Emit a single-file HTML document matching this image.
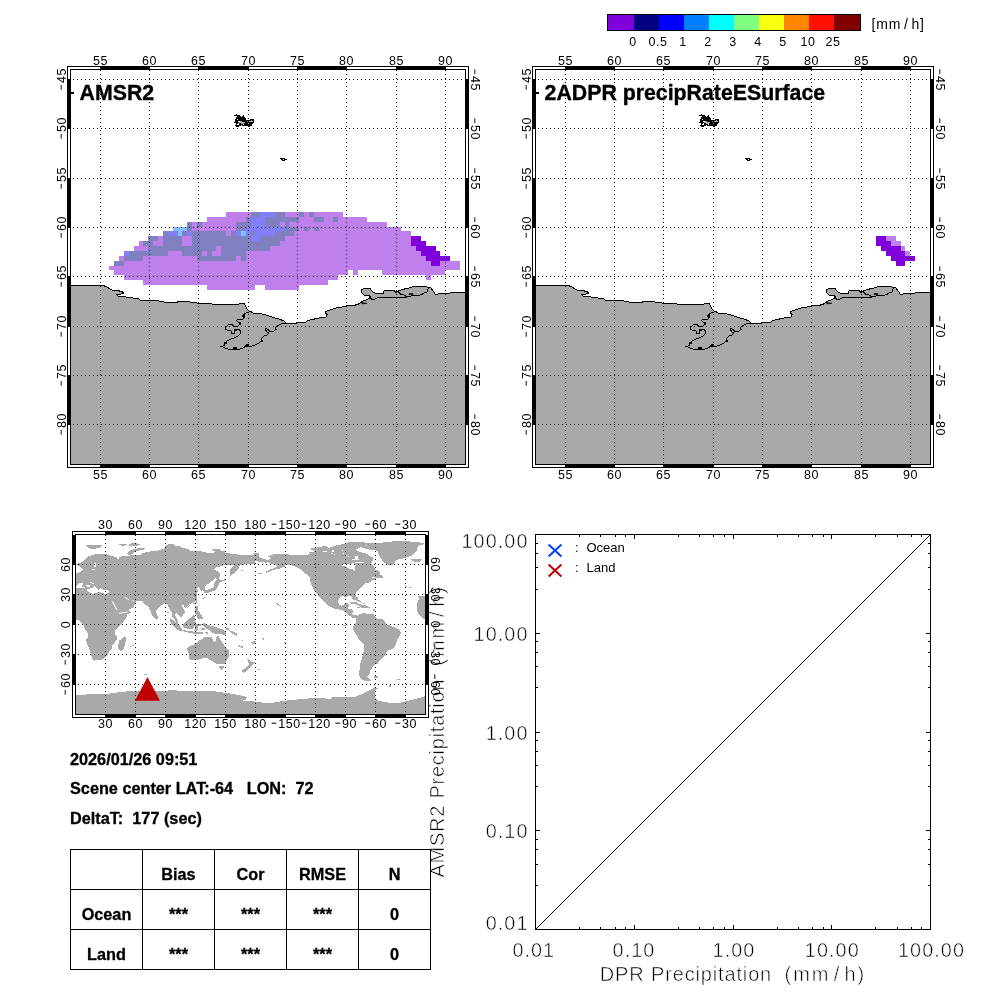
<!DOCTYPE html>
<html lang="en"><head><meta charset="utf-8"><title>AMSR2</title>
<style>
html,body{margin:0;padding:0;background:#fff;}
body{width:1000px;height:1000px;overflow:hidden;}
svg{display:block;}
text{font-family:'Liberation Sans', sans-serif;fill:#000;}
.ax{font-size:12.5px;letter-spacing:0.6px;}
.mn{font-size:22px;stroke:#fff;stroke-width:0.6px;}
.ttl{font-size:21.3px;font-weight:bold;stroke:#000;stroke-width:0.35px;}
.b16{font-size:16.25px;font-weight:bold;stroke:#000;stroke-width:0.3px;}
.big{font-size:19.8px;letter-spacing:1.08px;stroke:#fff;stroke-width:0.5px;}
.tl{font-size:20px;stroke:#fff;stroke-width:0.55px;}
.leg{font-size:13px;}
</style></head><body>
<svg width="1000" height="1000" viewBox="0 0 1000 1000" shape-rendering="crispEdges">
<defs>
<clipPath id="clip0"><rect x="71" y="70" width="394" height="394"/></clipPath>
<clipPath id="clip465"><rect x="536" y="70" width="394" height="394"/></clipPath>
<clipPath id="clipw"><rect x="76" y="535" width="349" height="179"/></clipPath>
</defs>
<rect x="0" y="0" width="1000" height="1000" fill="#fff"/>
<rect x="607" y="14" width="254" height="17" fill="#000"/>
<rect x="608" y="15" width="26" height="15" fill="#8000dc"/>
<rect x="634" y="15" width="25" height="15" fill="#000080"/>
<rect x="659" y="15" width="25" height="15" fill="#0000ff"/>
<rect x="684" y="15" width="25" height="15" fill="#0080ff"/>
<rect x="709" y="15" width="25" height="15" fill="#00ffff"/>
<rect x="734" y="15" width="25" height="15" fill="#80ff80"/>
<rect x="759" y="15" width="25" height="15" fill="#f8ff10"/>
<rect x="784" y="15" width="25" height="15" fill="#ff8800"/>
<rect x="809" y="15" width="25" height="15" fill="#ff1000"/>
<rect x="834" y="15" width="26" height="15" fill="#800000"/>
<text x="633" y="46" class="ax" text-anchor="middle">0</text>
<text x="658" y="46" class="ax" text-anchor="middle">0.5</text>
<text x="683" y="46" class="ax" text-anchor="middle">1</text>
<text x="708" y="46" class="ax" text-anchor="middle">2</text>
<text x="733" y="46" class="ax" text-anchor="middle">3</text>
<text x="758" y="46" class="ax" text-anchor="middle">4</text>
<text x="783" y="46" class="ax" text-anchor="middle">5</text>
<text x="808" y="46" class="ax" text-anchor="middle">10</text>
<text x="833" y="46" class="ax" text-anchor="middle">25</text>
<text x="871.5" y="29" class="leg" style="font-size:14px;letter-spacing:0.9px">[mm<tspan dx="2.6">/</tspan><tspan dx="2.6">h]</tspan></text>
<rect x="67" y="66" width="402" height="402" fill="#000"/>
<rect x="68" y="67" width="400" height="400" fill="#fff"/>
<rect x="70" y="69" width="396" height="396" fill="#000"/>
<rect x="71" y="70" width="394" height="394" fill="#fff"/>
<rect x="100" y="66" width="50" height="4" fill="#000"/>
<rect x="100" y="464" width="50" height="4" fill="#000"/>
<rect x="198" y="66" width="51" height="4" fill="#000"/>
<rect x="198" y="464" width="51" height="4" fill="#000"/>
<rect x="297" y="66" width="50" height="4" fill="#000"/>
<rect x="297" y="464" width="50" height="4" fill="#000"/>
<rect x="396" y="66" width="50" height="4" fill="#000"/>
<rect x="396" y="464" width="50" height="4" fill="#000"/>
<rect x="67" y="79" width="4" height="50" fill="#000"/>
<rect x="465" y="79" width="4" height="50" fill="#000"/>
<rect x="67" y="178" width="4" height="50" fill="#000"/>
<rect x="465" y="178" width="4" height="50" fill="#000"/>
<rect x="67" y="276" width="4" height="51" fill="#000"/>
<rect x="465" y="276" width="4" height="51" fill="#000"/>
<rect x="67" y="375" width="4" height="50" fill="#000"/>
<rect x="465" y="375" width="4" height="50" fill="#000"/>
<rect x="226" y="212" width="25" height="5" fill="#c080ec"/>
<rect x="251" y="212" width="9" height="5" fill="#8080c0"/>
<rect x="260" y="212" width="15" height="5" fill="#8080ff"/>
<rect x="275" y="212" width="10" height="5" fill="#8080c0"/>
<rect x="285" y="212" width="14" height="5" fill="#c080ec"/>
<rect x="299" y="212" width="5" height="5" fill="#8080c0"/>
<rect x="304" y="212" width="5" height="5" fill="#c080ec"/>
<rect x="309" y="212" width="5" height="5" fill="#8080c0"/>
<rect x="314" y="212" width="29" height="5" fill="#c080ec"/>
<rect x="207" y="217" width="39" height="5" fill="#c080ec"/>
<rect x="246" y="217" width="5" height="5" fill="#8080c0"/>
<rect x="251" y="217" width="14" height="5" fill="#8080ff"/>
<rect x="265" y="217" width="34" height="5" fill="#8080c0"/>
<rect x="299" y="217" width="15" height="5" fill="#c080ec"/>
<rect x="314" y="217" width="10" height="5" fill="#8080c0"/>
<rect x="324" y="217" width="9" height="5" fill="#c080ec"/>
<rect x="333" y="217" width="5" height="5" fill="#8080c0"/>
<rect x="338" y="217" width="29" height="5" fill="#c080ec"/>
<rect x="187" y="222" width="5" height="5" fill="#8080c0"/>
<rect x="192" y="222" width="5" height="5" fill="#c080ec"/>
<rect x="197" y="222" width="5" height="5" fill="#8080c0"/>
<rect x="202" y="222" width="34" height="5" fill="#c080ec"/>
<rect x="236" y="222" width="15" height="5" fill="#8080c0"/>
<rect x="251" y="222" width="14" height="5" fill="#8080ff"/>
<rect x="265" y="222" width="15" height="5" fill="#8080c0"/>
<rect x="280" y="222" width="5" height="5" fill="#c080ec"/>
<rect x="285" y="222" width="4" height="5" fill="#8080c0"/>
<rect x="289" y="222" width="98" height="5" fill="#c080ec"/>
<rect x="173" y="227" width="14" height="4" fill="#80c0ff"/>
<rect x="187" y="227" width="5" height="4" fill="#8080c0"/>
<rect x="192" y="227" width="44" height="4" fill="#c080ec"/>
<rect x="236" y="227" width="10" height="4" fill="#8080c0"/>
<rect x="246" y="227" width="39" height="4" fill="#8080ff"/>
<rect x="285" y="227" width="14" height="4" fill="#8080c0"/>
<rect x="299" y="227" width="5" height="4" fill="#c080ec"/>
<rect x="304" y="227" width="5" height="4" fill="#8080c0"/>
<rect x="309" y="227" width="5" height="4" fill="#c080ec"/>
<rect x="314" y="227" width="5" height="4" fill="#8080c0"/>
<rect x="319" y="227" width="82" height="4" fill="#c080ec"/>
<rect x="163" y="231" width="5" height="5" fill="#8080c0"/>
<rect x="168" y="231" width="10" height="5" fill="#8080ff"/>
<rect x="178" y="231" width="4" height="5" fill="#80c0ff"/>
<rect x="182" y="231" width="5" height="5" fill="#8080c0"/>
<rect x="187" y="231" width="5" height="5" fill="#8080ff"/>
<rect x="192" y="231" width="34" height="5" fill="#8080c0"/>
<rect x="226" y="231" width="5" height="5" fill="#c080ec"/>
<rect x="231" y="231" width="5" height="5" fill="#8080c0"/>
<rect x="236" y="231" width="5" height="5" fill="#8080ff"/>
<rect x="241" y="231" width="5" height="5" fill="#80c0ff"/>
<rect x="246" y="231" width="5" height="5" fill="#8080ff"/>
<rect x="251" y="231" width="4" height="5" fill="#8080c0"/>
<rect x="255" y="231" width="20" height="5" fill="#8080ff"/>
<rect x="275" y="231" width="19" height="5" fill="#8080c0"/>
<rect x="294" y="231" width="117" height="5" fill="#c080ec"/>
<rect x="148" y="236" width="10" height="5" fill="#8080c0"/>
<rect x="158" y="236" width="5" height="5" fill="#c080ec"/>
<rect x="163" y="236" width="19" height="5" fill="#8080c0"/>
<rect x="182" y="236" width="10" height="5" fill="#c080ec"/>
<rect x="192" y="236" width="59" height="5" fill="#8080c0"/>
<rect x="251" y="236" width="9" height="5" fill="#8080ff"/>
<rect x="260" y="236" width="25" height="5" fill="#8080c0"/>
<rect x="285" y="236" width="126" height="5" fill="#c080ec"/>
<rect x="411" y="236" width="10" height="5" fill="#8000dc"/>
<rect x="139" y="241" width="4" height="5" fill="#c080ec"/>
<rect x="143" y="241" width="10" height="5" fill="#8080c0"/>
<rect x="153" y="241" width="10" height="5" fill="#c080ec"/>
<rect x="163" y="241" width="19" height="5" fill="#8080c0"/>
<rect x="182" y="241" width="10" height="5" fill="#c080ec"/>
<rect x="192" y="241" width="88" height="5" fill="#8080c0"/>
<rect x="280" y="241" width="131" height="5" fill="#c080ec"/>
<rect x="411" y="241" width="15" height="5" fill="#8000dc"/>
<rect x="134" y="246" width="14" height="5" fill="#c080ec"/>
<rect x="148" y="246" width="68" height="5" fill="#8080c0"/>
<rect x="216" y="246" width="5" height="5" fill="#c080ec"/>
<rect x="221" y="246" width="49" height="5" fill="#8080c0"/>
<rect x="270" y="246" width="146" height="5" fill="#c080ec"/>
<rect x="416" y="246" width="20" height="5" fill="#8000dc"/>
<rect x="124" y="251" width="5" height="5" fill="#8080ff"/>
<rect x="129" y="251" width="39" height="5" fill="#8080c0"/>
<rect x="168" y="251" width="14" height="5" fill="#c080ec"/>
<rect x="182" y="251" width="20" height="5" fill="#8080c0"/>
<rect x="202" y="251" width="5" height="5" fill="#c080ec"/>
<rect x="207" y="251" width="5" height="5" fill="#8080c0"/>
<rect x="212" y="251" width="9" height="5" fill="#c080ec"/>
<rect x="221" y="251" width="25" height="5" fill="#8080c0"/>
<rect x="246" y="251" width="175" height="5" fill="#c080ec"/>
<rect x="421" y="251" width="19" height="5" fill="#8000dc"/>
<rect x="119" y="256" width="5" height="5" fill="#c080ec"/>
<rect x="124" y="256" width="19" height="5" fill="#8080c0"/>
<rect x="143" y="256" width="54" height="5" fill="#c080ec"/>
<rect x="197" y="256" width="39" height="5" fill="#8080c0"/>
<rect x="236" y="256" width="5" height="5" fill="#c080ec"/>
<rect x="241" y="256" width="5" height="5" fill="#8080c0"/>
<rect x="246" y="256" width="180" height="5" fill="#c080ec"/>
<rect x="426" y="256" width="24" height="5" fill="#8000dc"/>
<rect x="114" y="261" width="10" height="5" fill="#8080c0"/>
<rect x="124" y="261" width="307" height="5" fill="#c080ec"/>
<rect x="431" y="261" width="9" height="5" fill="#8000dc"/>
<rect x="440" y="261" width="20" height="5" fill="#c080ec"/>
<rect x="109" y="266" width="351" height="4" fill="#c080ec"/>
<rect x="114" y="270" width="234" height="5" fill="#c080ec"/>
<rect x="353" y="270" width="5" height="5" fill="#c080ec"/>
<rect x="382" y="270" width="63" height="5" fill="#c080ec"/>
<rect x="124" y="275" width="214" height="5" fill="#c080ec"/>
<rect x="426" y="275" width="5" height="5" fill="#c080ec"/>
<rect x="143" y="280" width="185" height="5" fill="#c080ec"/>
<rect x="207" y="285" width="48" height="5" fill="#c080ec"/>
<rect x="265" y="285" width="34" height="5" fill="#c080ec"/>
<g clip-path="url(#clip0)">
<polygon points="70.5,286.0 80.0,285.7 103.0,285.5 106.0,286.5 112.0,290.0 117.0,290.5 122.0,291.5 123.5,293.0 121.0,294.0 117.0,294.5 118.0,296.0 126.0,297.0 133.0,298.0 138.0,298.0 140.0,300.0 150.0,300.5 157.0,300.0 160.0,301.3 164.0,302.0 175.0,302.5 180.0,301.5 190.0,302.0 197.0,303.0 205.0,303.5 212.0,304.0 220.0,304.5 230.0,304.7 238.0,304.7 240.0,303.6 244.5,303.6 245.5,306.0 247.0,309.0 249.0,311.0 251.0,311.5 253.0,313.0 258.0,313.0 262.0,314.0 268.0,315.5 273.0,317.5 279.0,319.0 284.0,321.0 286.0,323.5 290.0,323.5 296.0,323.5 298.0,322.0 303.0,322.0 305.0,322.5 308.0,320.5 313.0,319.5 316.0,318.5 322.0,317.5 326.0,317.0 327.0,314.5 325.5,313.0 326.0,311.5 330.0,310.0 336.0,308.0 342.0,307.0 348.0,305.5 353.0,305.5 358.0,304.5 360.0,303.0 363.0,301.0 366.0,300.0 369.0,298.5 370.0,296.0 369.5,295.5 364.0,295.0 362.0,293.0 361.5,291.0 362.0,289.5 364.0,288.5 370.0,288.5 371.0,290.0 373.0,292.0 376.0,293.5 383.5,293.5 384.0,290.7 394.0,290.7 396.0,292.5 398.0,291.0 402.0,289.5 407.0,288.5 412.0,287.0 418.0,286.5 426.0,286.5 428.0,287.5 430.0,287.0 432.0,289.5 434.0,292.0 435.0,294.0 438.0,294.0 440.0,293.0 445.0,293.0 450.0,293.0 452.0,292.0 465.5,292.0 465.5,464.0 70.5,464.0" fill="#a9a9a9" stroke="none"/>
<polyline points="70.5,286.0 80.0,285.7 103.0,285.5 106.0,286.5 112.0,290.0 117.0,290.5 122.0,291.5 123.5,293.0 121.0,294.0 117.0,294.5 118.0,296.0 126.0,297.0 133.0,298.0 138.0,298.0 140.0,300.0 150.0,300.5 157.0,300.0 160.0,301.3 164.0,302.0 175.0,302.5 180.0,301.5 190.0,302.0 197.0,303.0 205.0,303.5 212.0,304.0 220.0,304.5 230.0,304.7 238.0,304.7 240.0,303.6 244.5,303.6 245.5,306.0 247.0,309.0 249.0,311.0 251.0,311.5 253.0,313.0 258.0,313.0 262.0,314.0 268.0,315.5 273.0,317.5 279.0,319.0 284.0,321.0 286.0,323.5 290.0,323.5 296.0,323.5 298.0,322.0 303.0,322.0 305.0,322.5 308.0,320.5 313.0,319.5 316.0,318.5 322.0,317.5 326.0,317.0 327.0,314.5 325.5,313.0 326.0,311.5 330.0,310.0 336.0,308.0 342.0,307.0 348.0,305.5 353.0,305.5 358.0,304.5 360.0,303.0 363.0,301.0 366.0,300.0 369.0,298.5 370.0,296.0 369.5,295.5 364.0,295.0 362.0,293.0 361.5,291.0 362.0,289.5 364.0,288.5 370.0,288.5 371.0,290.0 373.0,292.0 376.0,293.5 383.5,293.5 384.0,290.7 394.0,290.7 396.0,292.5 398.0,291.0 402.0,289.5 407.0,288.5 412.0,287.0 418.0,286.5 426.0,286.5 428.0,287.5 430.0,287.0 432.0,289.5 434.0,292.0 435.0,294.0 438.0,294.0 440.0,293.0 445.0,293.0 450.0,293.0 452.0,292.0 465.5,292.0" fill="none" stroke="#000" stroke-width="1"/>
<polyline points="248.5,312.0 246.0,313.0 244.0,314.5 242.0,316.0 244.0,317.5 243.0,319.0 238.0,319.5 236.5,320.5 238.0,322.0 240.5,322.5 240.0,324.5 238.0,326.0 234.0,326.0 232.0,324.5 229.0,324.5 227.0,326.0 225.5,328.0 226.0,329.5 228.0,330.5 231.0,331.0 231.0,333.0 234.0,333.0 234.0,331.0 235.0,329.5 239.0,329.5 241.0,331.0 240.0,334.0 238.0,336.0 234.0,338.0 230.0,339.5 227.0,341.0 225.0,343.0 224.0,345.5 221.5,346.5 224.0,347.5 228.0,349.0 231.0,349.5 234.0,349.0 237.0,350.0 240.0,349.0 244.0,347.5 246.0,345.5 248.0,346.5 252.0,346.0 256.0,344.5 259.0,343.0 261.0,341.0 262.0,338.0 264.0,336.0 267.0,335.0 269.0,333.0 267.0,332.0 265.5,330.0 266.0,328.5 268.0,329.5 270.0,331.5 272.0,332.0 274.0,331.0 276.0,329.5 275.0,328.0 277.0,326.0 281.0,324.0 286.0,323.5" fill="none" stroke="#000" stroke-width="1"/>
<polyline points="370.0,296.0 370.0,298.0 372.0,299.5 375.0,299.0 377.0,298.0 385.0,297.5 390.0,297.5 391.0,297.0 396.0,297.5 400.0,297.5 405.0,298.0 408.0,296.5 411.0,296.0 418.0,295.5 422.0,294.5 424.0,293.0 427.0,292.0 428.0,289.0 429.5,287.5" fill="none" stroke="#000" stroke-width="1"/>
<polyline points="398.0,291.5 400.0,293.5 401.0,294.5 403.0,294.0 405.0,295.5 407.0,297.0" fill="none" stroke="#000" stroke-width="1"/>
<rect x="242" y="314.5" width="3" height="2.5" fill="#000"/>
<rect x="239" y="322.5" width="2" height="2" fill="#000"/>
<rect x="234" y="329" width="2.5" height="2" fill="#000"/>
<rect x="224" y="341.5" width="2.5" height="2.5" fill="#000"/>
<rect x="233" y="346.5" width="3.5" height="2.5" fill="#000"/>
<rect x="245.5" y="344" width="3" height="3" fill="#000"/>
<rect x="260.5" y="339.5" width="2" height="2" fill="#000"/>
<path d="M361,302.5 l6,0.8 l-5,0.5z M409,293.6 h4 v1 h-4z" fill="#000" stroke="#000" stroke-width="0.6" shape-rendering="auto"/>
<path d="M236 114h1v1h-1zM234 115h6v1h-6zM243 115h1v1h-1zM237 116h4v1h-4zM242 116h2v1h-2zM236 117h9v1h-9zM236 118h10v1h-10zM235 119h11v1h-11zM250 119h4v1h-4zM235 120h19v1h-19zM235 121h19v1h-19zM234 122h20v1h-20zM236 123h17v1h-17zM236 124h16v1h-16zM235 125h6v1h-6zM242 125h10v1h-10zM236 126h3v1h-3zM249 126h1v1h-1z" fill="#000"/>
<rect x="237" y="119" width="1" height="1" fill="#fff"/>
<rect x="251" y="120" width="1" height="1" fill="#999"/>
<rect x="238" y="121" width="2" height="1" fill="#fff"/>
<rect x="240" y="121" width="2" height="1" fill="#aaa"/>
<rect x="247" y="121" width="1" height="1" fill="#888"/>
<rect x="249" y="121" width="4" height="1" fill="#aaa"/>
<rect x="239" y="122" width="6" height="1" fill="#aaa"/>
<rect x="238" y="123" width="1" height="1" fill="#fff"/>
<rect x="241" y="123" width="3" height="1" fill="#aaa"/>
<rect x="248" y="123" width="1" height="1" fill="#888"/>
<rect x="237" y="124" width="2" height="1" fill="#fff"/>
<rect x="243" y="124" width="1" height="1" fill="#fff"/>
<path d="M280 158h5v1h-5zM281 159h2v1h-2zM284 159h3v1h-3zM282 160h3v1h-3z" fill="#000"/>
</g>
<line x1="100.5" y1="70" x2="100.5" y2="464" stroke="#000" stroke-width="1" stroke-dasharray="1 3"/>
<line x1="149.5" y1="70" x2="149.5" y2="464" stroke="#000" stroke-width="1" stroke-dasharray="1 3"/>
<line x1="198.5" y1="70" x2="198.5" y2="464" stroke="#000" stroke-width="1" stroke-dasharray="1 3"/>
<line x1="248.5" y1="70" x2="248.5" y2="464" stroke="#000" stroke-width="1" stroke-dasharray="1 3"/>
<line x1="297.5" y1="70" x2="297.5" y2="464" stroke="#000" stroke-width="1" stroke-dasharray="1 3"/>
<line x1="346.5" y1="70" x2="346.5" y2="464" stroke="#000" stroke-width="1" stroke-dasharray="1 3"/>
<line x1="396.5" y1="70" x2="396.5" y2="464" stroke="#000" stroke-width="1" stroke-dasharray="1 3"/>
<line x1="445.5" y1="70" x2="445.5" y2="464" stroke="#000" stroke-width="1" stroke-dasharray="1 3"/>
<line x1="73" y1="79.5" x2="465" y2="79.5" stroke="#000" stroke-width="1" stroke-dasharray="1 3"/>
<line x1="73" y1="128.5" x2="465" y2="128.5" stroke="#000" stroke-width="1" stroke-dasharray="1 3"/>
<line x1="73" y1="178.5" x2="465" y2="178.5" stroke="#000" stroke-width="1" stroke-dasharray="1 3"/>
<line x1="73" y1="227.5" x2="465" y2="227.5" stroke="#000" stroke-width="1" stroke-dasharray="1 3"/>
<line x1="73" y1="276.5" x2="465" y2="276.5" stroke="#000" stroke-width="1" stroke-dasharray="1 3"/>
<line x1="73" y1="326.5" x2="465" y2="326.5" stroke="#000" stroke-width="1" stroke-dasharray="1 3"/>
<line x1="73" y1="375.5" x2="465" y2="375.5" stroke="#000" stroke-width="1" stroke-dasharray="1 3"/>
<line x1="73" y1="424.5" x2="465" y2="424.5" stroke="#000" stroke-width="1" stroke-dasharray="1 3"/>
<text x="100.5" y="64.5" class="ax" text-anchor="middle">55</text>
<text x="100.5" y="478.5" class="ax" text-anchor="middle">55</text>
<text x="149.5" y="64.5" class="ax" text-anchor="middle">60</text>
<text x="149.5" y="478.5" class="ax" text-anchor="middle">60</text>
<text x="198.5" y="64.5" class="ax" text-anchor="middle">65</text>
<text x="198.5" y="478.5" class="ax" text-anchor="middle">65</text>
<text x="248.5" y="64.5" class="ax" text-anchor="middle">70</text>
<text x="248.5" y="478.5" class="ax" text-anchor="middle">70</text>
<text x="297.5" y="64.5" class="ax" text-anchor="middle">75</text>
<text x="297.5" y="478.5" class="ax" text-anchor="middle">75</text>
<text x="346.5" y="64.5" class="ax" text-anchor="middle">80</text>
<text x="346.5" y="478.5" class="ax" text-anchor="middle">80</text>
<text x="396.5" y="64.5" class="ax" text-anchor="middle">85</text>
<text x="396.5" y="478.5" class="ax" text-anchor="middle">85</text>
<text x="445.5" y="64.5" class="ax" text-anchor="middle">90</text>
<text x="445.5" y="478.5" class="ax" text-anchor="middle">90</text>
<text transform="translate(65.5,79.5) rotate(-90)" class="ax" text-anchor="middle"><tspan class="mn" dy="1.3">-</tspan><tspan dy="-1.3">45</tspan></text>
<text transform="translate(470.5,79.5) rotate(90)" class="ax" text-anchor="middle"><tspan class="mn" dy="1.3">-</tspan><tspan dy="-1.3">45</tspan></text>
<text transform="translate(65.5,128.5) rotate(-90)" class="ax" text-anchor="middle"><tspan class="mn" dy="1.3">-</tspan><tspan dy="-1.3">50</tspan></text>
<text transform="translate(470.5,128.5) rotate(90)" class="ax" text-anchor="middle"><tspan class="mn" dy="1.3">-</tspan><tspan dy="-1.3">50</tspan></text>
<text transform="translate(65.5,178.5) rotate(-90)" class="ax" text-anchor="middle"><tspan class="mn" dy="1.3">-</tspan><tspan dy="-1.3">55</tspan></text>
<text transform="translate(470.5,178.5) rotate(90)" class="ax" text-anchor="middle"><tspan class="mn" dy="1.3">-</tspan><tspan dy="-1.3">55</tspan></text>
<text transform="translate(65.5,227.5) rotate(-90)" class="ax" text-anchor="middle"><tspan class="mn" dy="1.3">-</tspan><tspan dy="-1.3">60</tspan></text>
<text transform="translate(470.5,227.5) rotate(90)" class="ax" text-anchor="middle"><tspan class="mn" dy="1.3">-</tspan><tspan dy="-1.3">60</tspan></text>
<text transform="translate(65.5,276.5) rotate(-90)" class="ax" text-anchor="middle"><tspan class="mn" dy="1.3">-</tspan><tspan dy="-1.3">65</tspan></text>
<text transform="translate(470.5,276.5) rotate(90)" class="ax" text-anchor="middle"><tspan class="mn" dy="1.3">-</tspan><tspan dy="-1.3">65</tspan></text>
<text transform="translate(65.5,326.5) rotate(-90)" class="ax" text-anchor="middle"><tspan class="mn" dy="1.3">-</tspan><tspan dy="-1.3">70</tspan></text>
<text transform="translate(470.5,326.5) rotate(90)" class="ax" text-anchor="middle"><tspan class="mn" dy="1.3">-</tspan><tspan dy="-1.3">70</tspan></text>
<text transform="translate(65.5,375.5) rotate(-90)" class="ax" text-anchor="middle"><tspan class="mn" dy="1.3">-</tspan><tspan dy="-1.3">75</tspan></text>
<text transform="translate(470.5,375.5) rotate(90)" class="ax" text-anchor="middle"><tspan class="mn" dy="1.3">-</tspan><tspan dy="-1.3">75</tspan></text>
<text transform="translate(65.5,424.5) rotate(-90)" class="ax" text-anchor="middle"><tspan class="mn" dy="1.3">-</tspan><tspan dy="-1.3">80</tspan></text>
<text transform="translate(470.5,424.5) rotate(90)" class="ax" text-anchor="middle"><tspan class="mn" dy="1.3">-</tspan><tspan dy="-1.3">80</tspan></text>
<rect x="71" y="92" width="3" height="2" fill="#000"/>
<text x="79.6" y="100" class="ttl">AMSR2</text>
<rect x="532" y="66" width="402" height="402" fill="#000"/>
<rect x="533" y="67" width="400" height="400" fill="#fff"/>
<rect x="535" y="69" width="396" height="396" fill="#000"/>
<rect x="536" y="70" width="394" height="394" fill="#fff"/>
<rect x="565" y="66" width="50" height="4" fill="#000"/>
<rect x="565" y="464" width="50" height="4" fill="#000"/>
<rect x="663" y="66" width="51" height="4" fill="#000"/>
<rect x="663" y="464" width="51" height="4" fill="#000"/>
<rect x="762" y="66" width="50" height="4" fill="#000"/>
<rect x="762" y="464" width="50" height="4" fill="#000"/>
<rect x="861" y="66" width="50" height="4" fill="#000"/>
<rect x="861" y="464" width="50" height="4" fill="#000"/>
<rect x="532" y="79" width="4" height="50" fill="#000"/>
<rect x="930" y="79" width="4" height="50" fill="#000"/>
<rect x="532" y="178" width="4" height="50" fill="#000"/>
<rect x="930" y="178" width="4" height="50" fill="#000"/>
<rect x="532" y="276" width="4" height="51" fill="#000"/>
<rect x="930" y="276" width="4" height="51" fill="#000"/>
<rect x="532" y="375" width="4" height="50" fill="#000"/>
<rect x="930" y="375" width="4" height="50" fill="#000"/>
<rect x="876" y="236" width="10" height="5" fill="#8000dc"/>
<rect x="886" y="236" width="10" height="5" fill="#c080ec"/>
<rect x="876" y="241" width="15" height="5" fill="#8000dc"/>
<rect x="891" y="241" width="10" height="5" fill="#c080ec"/>
<rect x="881" y="246" width="20" height="5" fill="#8000dc"/>
<rect x="901" y="246" width="4" height="5" fill="#c080ec"/>
<rect x="886" y="251" width="19" height="5" fill="#8000dc"/>
<rect x="905" y="251" width="5" height="5" fill="#c080ec"/>
<rect x="891" y="256" width="24" height="5" fill="#8000dc"/>
<rect x="896" y="261" width="9" height="5" fill="#8000dc"/>
<g clip-path="url(#clip465)">
<polygon points="535.5,286.0 545.0,285.7 568.0,285.5 571.0,286.5 577.0,290.0 582.0,290.5 587.0,291.5 588.5,293.0 586.0,294.0 582.0,294.5 583.0,296.0 591.0,297.0 598.0,298.0 603.0,298.0 605.0,300.0 615.0,300.5 622.0,300.0 625.0,301.3 629.0,302.0 640.0,302.5 645.0,301.5 655.0,302.0 662.0,303.0 670.0,303.5 677.0,304.0 685.0,304.5 695.0,304.7 703.0,304.7 705.0,303.6 709.5,303.6 710.5,306.0 712.0,309.0 714.0,311.0 716.0,311.5 718.0,313.0 723.0,313.0 727.0,314.0 733.0,315.5 738.0,317.5 744.0,319.0 749.0,321.0 751.0,323.5 755.0,323.5 761.0,323.5 763.0,322.0 768.0,322.0 770.0,322.5 773.0,320.5 778.0,319.5 781.0,318.5 787.0,317.5 791.0,317.0 792.0,314.5 790.5,313.0 791.0,311.5 795.0,310.0 801.0,308.0 807.0,307.0 813.0,305.5 818.0,305.5 823.0,304.5 825.0,303.0 828.0,301.0 831.0,300.0 834.0,298.5 835.0,296.0 834.5,295.5 829.0,295.0 827.0,293.0 826.5,291.0 827.0,289.5 829.0,288.5 835.0,288.5 836.0,290.0 838.0,292.0 841.0,293.5 848.5,293.5 849.0,290.7 859.0,290.7 861.0,292.5 863.0,291.0 867.0,289.5 872.0,288.5 877.0,287.0 883.0,286.5 891.0,286.5 893.0,287.5 895.0,287.0 897.0,289.5 899.0,292.0 900.0,294.0 903.0,294.0 905.0,293.0 910.0,293.0 915.0,293.0 917.0,292.0 930.5,292.0 930.5,464.0 535.5,464.0" fill="#a9a9a9" stroke="none"/>
<polyline points="535.5,286.0 545.0,285.7 568.0,285.5 571.0,286.5 577.0,290.0 582.0,290.5 587.0,291.5 588.5,293.0 586.0,294.0 582.0,294.5 583.0,296.0 591.0,297.0 598.0,298.0 603.0,298.0 605.0,300.0 615.0,300.5 622.0,300.0 625.0,301.3 629.0,302.0 640.0,302.5 645.0,301.5 655.0,302.0 662.0,303.0 670.0,303.5 677.0,304.0 685.0,304.5 695.0,304.7 703.0,304.7 705.0,303.6 709.5,303.6 710.5,306.0 712.0,309.0 714.0,311.0 716.0,311.5 718.0,313.0 723.0,313.0 727.0,314.0 733.0,315.5 738.0,317.5 744.0,319.0 749.0,321.0 751.0,323.5 755.0,323.5 761.0,323.5 763.0,322.0 768.0,322.0 770.0,322.5 773.0,320.5 778.0,319.5 781.0,318.5 787.0,317.5 791.0,317.0 792.0,314.5 790.5,313.0 791.0,311.5 795.0,310.0 801.0,308.0 807.0,307.0 813.0,305.5 818.0,305.5 823.0,304.5 825.0,303.0 828.0,301.0 831.0,300.0 834.0,298.5 835.0,296.0 834.5,295.5 829.0,295.0 827.0,293.0 826.5,291.0 827.0,289.5 829.0,288.5 835.0,288.5 836.0,290.0 838.0,292.0 841.0,293.5 848.5,293.5 849.0,290.7 859.0,290.7 861.0,292.5 863.0,291.0 867.0,289.5 872.0,288.5 877.0,287.0 883.0,286.5 891.0,286.5 893.0,287.5 895.0,287.0 897.0,289.5 899.0,292.0 900.0,294.0 903.0,294.0 905.0,293.0 910.0,293.0 915.0,293.0 917.0,292.0 930.5,292.0" fill="none" stroke="#000" stroke-width="1"/>
<polyline points="713.5,312.0 711.0,313.0 709.0,314.5 707.0,316.0 709.0,317.5 708.0,319.0 703.0,319.5 701.5,320.5 703.0,322.0 705.5,322.5 705.0,324.5 703.0,326.0 699.0,326.0 697.0,324.5 694.0,324.5 692.0,326.0 690.5,328.0 691.0,329.5 693.0,330.5 696.0,331.0 696.0,333.0 699.0,333.0 699.0,331.0 700.0,329.5 704.0,329.5 706.0,331.0 705.0,334.0 703.0,336.0 699.0,338.0 695.0,339.5 692.0,341.0 690.0,343.0 689.0,345.5 686.5,346.5 689.0,347.5 693.0,349.0 696.0,349.5 699.0,349.0 702.0,350.0 705.0,349.0 709.0,347.5 711.0,345.5 713.0,346.5 717.0,346.0 721.0,344.5 724.0,343.0 726.0,341.0 727.0,338.0 729.0,336.0 732.0,335.0 734.0,333.0 732.0,332.0 730.5,330.0 731.0,328.5 733.0,329.5 735.0,331.5 737.0,332.0 739.0,331.0 741.0,329.5 740.0,328.0 742.0,326.0 746.0,324.0 751.0,323.5" fill="none" stroke="#000" stroke-width="1"/>
<polyline points="835.0,296.0 835.0,298.0 837.0,299.5 840.0,299.0 842.0,298.0 850.0,297.5 855.0,297.5 856.0,297.0 861.0,297.5 865.0,297.5 870.0,298.0 873.0,296.5 876.0,296.0 883.0,295.5 887.0,294.5 889.0,293.0 892.0,292.0 893.0,289.0 894.5,287.5" fill="none" stroke="#000" stroke-width="1"/>
<polyline points="863.0,291.5 865.0,293.5 866.0,294.5 868.0,294.0 870.0,295.5 872.0,297.0" fill="none" stroke="#000" stroke-width="1"/>
<rect x="707" y="314.5" width="3" height="2.5" fill="#000"/>
<rect x="704" y="322.5" width="2" height="2" fill="#000"/>
<rect x="699" y="329" width="2.5" height="2" fill="#000"/>
<rect x="689" y="341.5" width="2.5" height="2.5" fill="#000"/>
<rect x="698" y="346.5" width="3.5" height="2.5" fill="#000"/>
<rect x="710.5" y="344" width="3" height="3" fill="#000"/>
<rect x="725.5" y="339.5" width="2" height="2" fill="#000"/>
<path d="M826,302.5 l6,0.8 l-5,0.5z M874,293.6 h4 v1 h-4z" fill="#000" stroke="#000" stroke-width="0.6" shape-rendering="auto"/>
<path d="M701 114h1v1h-1zM699 115h6v1h-6zM708 115h1v1h-1zM702 116h4v1h-4zM707 116h2v1h-2zM701 117h9v1h-9zM701 118h10v1h-10zM700 119h11v1h-11zM715 119h4v1h-4zM700 120h19v1h-19zM700 121h19v1h-19zM699 122h20v1h-20zM701 123h17v1h-17zM701 124h16v1h-16zM700 125h6v1h-6zM707 125h10v1h-10zM701 126h3v1h-3zM714 126h1v1h-1z" fill="#000"/>
<rect x="702" y="119" width="1" height="1" fill="#fff"/>
<rect x="716" y="120" width="1" height="1" fill="#999"/>
<rect x="703" y="121" width="2" height="1" fill="#fff"/>
<rect x="705" y="121" width="2" height="1" fill="#aaa"/>
<rect x="712" y="121" width="1" height="1" fill="#888"/>
<rect x="714" y="121" width="4" height="1" fill="#aaa"/>
<rect x="704" y="122" width="6" height="1" fill="#aaa"/>
<rect x="703" y="123" width="1" height="1" fill="#fff"/>
<rect x="706" y="123" width="3" height="1" fill="#aaa"/>
<rect x="713" y="123" width="1" height="1" fill="#888"/>
<rect x="702" y="124" width="2" height="1" fill="#fff"/>
<rect x="708" y="124" width="1" height="1" fill="#fff"/>
<path d="M745 158h5v1h-5zM746 159h2v1h-2zM749 159h3v1h-3zM747 160h3v1h-3z" fill="#000"/>
</g>
<line x1="565.5" y1="70" x2="565.5" y2="464" stroke="#000" stroke-width="1" stroke-dasharray="1 3"/>
<line x1="614.5" y1="70" x2="614.5" y2="464" stroke="#000" stroke-width="1" stroke-dasharray="1 3"/>
<line x1="663.5" y1="70" x2="663.5" y2="464" stroke="#000" stroke-width="1" stroke-dasharray="1 3"/>
<line x1="713.5" y1="70" x2="713.5" y2="464" stroke="#000" stroke-width="1" stroke-dasharray="1 3"/>
<line x1="762.5" y1="70" x2="762.5" y2="464" stroke="#000" stroke-width="1" stroke-dasharray="1 3"/>
<line x1="811.5" y1="70" x2="811.5" y2="464" stroke="#000" stroke-width="1" stroke-dasharray="1 3"/>
<line x1="861.5" y1="70" x2="861.5" y2="464" stroke="#000" stroke-width="1" stroke-dasharray="1 3"/>
<line x1="910.5" y1="70" x2="910.5" y2="464" stroke="#000" stroke-width="1" stroke-dasharray="1 3"/>
<line x1="538" y1="79.5" x2="930" y2="79.5" stroke="#000" stroke-width="1" stroke-dasharray="1 3"/>
<line x1="538" y1="128.5" x2="930" y2="128.5" stroke="#000" stroke-width="1" stroke-dasharray="1 3"/>
<line x1="538" y1="178.5" x2="930" y2="178.5" stroke="#000" stroke-width="1" stroke-dasharray="1 3"/>
<line x1="538" y1="227.5" x2="930" y2="227.5" stroke="#000" stroke-width="1" stroke-dasharray="1 3"/>
<line x1="538" y1="276.5" x2="930" y2="276.5" stroke="#000" stroke-width="1" stroke-dasharray="1 3"/>
<line x1="538" y1="326.5" x2="930" y2="326.5" stroke="#000" stroke-width="1" stroke-dasharray="1 3"/>
<line x1="538" y1="375.5" x2="930" y2="375.5" stroke="#000" stroke-width="1" stroke-dasharray="1 3"/>
<line x1="538" y1="424.5" x2="930" y2="424.5" stroke="#000" stroke-width="1" stroke-dasharray="1 3"/>
<text x="565.5" y="64.5" class="ax" text-anchor="middle">55</text>
<text x="565.5" y="478.5" class="ax" text-anchor="middle">55</text>
<text x="614.5" y="64.5" class="ax" text-anchor="middle">60</text>
<text x="614.5" y="478.5" class="ax" text-anchor="middle">60</text>
<text x="663.5" y="64.5" class="ax" text-anchor="middle">65</text>
<text x="663.5" y="478.5" class="ax" text-anchor="middle">65</text>
<text x="713.5" y="64.5" class="ax" text-anchor="middle">70</text>
<text x="713.5" y="478.5" class="ax" text-anchor="middle">70</text>
<text x="762.5" y="64.5" class="ax" text-anchor="middle">75</text>
<text x="762.5" y="478.5" class="ax" text-anchor="middle">75</text>
<text x="811.5" y="64.5" class="ax" text-anchor="middle">80</text>
<text x="811.5" y="478.5" class="ax" text-anchor="middle">80</text>
<text x="861.5" y="64.5" class="ax" text-anchor="middle">85</text>
<text x="861.5" y="478.5" class="ax" text-anchor="middle">85</text>
<text x="910.5" y="64.5" class="ax" text-anchor="middle">90</text>
<text x="910.5" y="478.5" class="ax" text-anchor="middle">90</text>
<text transform="translate(530.5,79.5) rotate(-90)" class="ax" text-anchor="middle"><tspan class="mn" dy="1.3">-</tspan><tspan dy="-1.3">45</tspan></text>
<text transform="translate(935.5,79.5) rotate(90)" class="ax" text-anchor="middle"><tspan class="mn" dy="1.3">-</tspan><tspan dy="-1.3">45</tspan></text>
<text transform="translate(530.5,128.5) rotate(-90)" class="ax" text-anchor="middle"><tspan class="mn" dy="1.3">-</tspan><tspan dy="-1.3">50</tspan></text>
<text transform="translate(935.5,128.5) rotate(90)" class="ax" text-anchor="middle"><tspan class="mn" dy="1.3">-</tspan><tspan dy="-1.3">50</tspan></text>
<text transform="translate(530.5,178.5) rotate(-90)" class="ax" text-anchor="middle"><tspan class="mn" dy="1.3">-</tspan><tspan dy="-1.3">55</tspan></text>
<text transform="translate(935.5,178.5) rotate(90)" class="ax" text-anchor="middle"><tspan class="mn" dy="1.3">-</tspan><tspan dy="-1.3">55</tspan></text>
<text transform="translate(530.5,227.5) rotate(-90)" class="ax" text-anchor="middle"><tspan class="mn" dy="1.3">-</tspan><tspan dy="-1.3">60</tspan></text>
<text transform="translate(935.5,227.5) rotate(90)" class="ax" text-anchor="middle"><tspan class="mn" dy="1.3">-</tspan><tspan dy="-1.3">60</tspan></text>
<text transform="translate(530.5,276.5) rotate(-90)" class="ax" text-anchor="middle"><tspan class="mn" dy="1.3">-</tspan><tspan dy="-1.3">65</tspan></text>
<text transform="translate(935.5,276.5) rotate(90)" class="ax" text-anchor="middle"><tspan class="mn" dy="1.3">-</tspan><tspan dy="-1.3">65</tspan></text>
<text transform="translate(530.5,326.5) rotate(-90)" class="ax" text-anchor="middle"><tspan class="mn" dy="1.3">-</tspan><tspan dy="-1.3">70</tspan></text>
<text transform="translate(935.5,326.5) rotate(90)" class="ax" text-anchor="middle"><tspan class="mn" dy="1.3">-</tspan><tspan dy="-1.3">70</tspan></text>
<text transform="translate(530.5,375.5) rotate(-90)" class="ax" text-anchor="middle"><tspan class="mn" dy="1.3">-</tspan><tspan dy="-1.3">75</tspan></text>
<text transform="translate(935.5,375.5) rotate(90)" class="ax" text-anchor="middle"><tspan class="mn" dy="1.3">-</tspan><tspan dy="-1.3">75</tspan></text>
<text transform="translate(530.5,424.5) rotate(-90)" class="ax" text-anchor="middle"><tspan class="mn" dy="1.3">-</tspan><tspan dy="-1.3">80</tspan></text>
<text transform="translate(935.5,424.5) rotate(90)" class="ax" text-anchor="middle"><tspan class="mn" dy="1.3">-</tspan><tspan dy="-1.3">80</tspan></text>
<rect x="536" y="92" width="3" height="2" fill="#000"/>
<text x="544.6" y="100" class="ttl">2ADPR precipRateESurface</text>
<text transform="translate(443.5,877.5) rotate(-90)" class="tl"><tspan x="0" style="letter-spacing:0.75px">AMSR2 Precipitation </tspan><tspan x="212" style="letter-spacing:1.8px">(mm<tspan dx="3">/</tspan><tspan dx="3">h)</tspan></tspan></text>
<rect x="72" y="531" width="357" height="187" fill="#000"/>
<rect x="73" y="532" width="355" height="185" fill="#fff"/>
<rect x="75" y="534" width="351" height="181" fill="#000"/>
<rect x="76" y="535" width="349" height="179" fill="#fff"/>
<rect x="105" y="531" width="31" height="4" fill="#000"/>
<rect x="105" y="714" width="31" height="4" fill="#000"/>
<rect x="165" y="531" width="31" height="4" fill="#000"/>
<rect x="165" y="714" width="31" height="4" fill="#000"/>
<rect x="225" y="531" width="61" height="4" fill="#000"/>
<rect x="225" y="714" width="61" height="4" fill="#000"/>
<rect x="315" y="531" width="31" height="4" fill="#000"/>
<rect x="315" y="714" width="31" height="4" fill="#000"/>
<rect x="375" y="531" width="31" height="4" fill="#000"/>
<rect x="375" y="714" width="31" height="4" fill="#000"/>
<rect x="72" y="535" width="4" height="30" fill="#000"/>
<rect x="425" y="535" width="4" height="30" fill="#000"/>
<rect x="72" y="594" width="4" height="31" fill="#000"/>
<rect x="425" y="594" width="4" height="31" fill="#000"/>
<rect x="72" y="654" width="4" height="31" fill="#000"/>
<rect x="425" y="654" width="4" height="31" fill="#000"/>
<g clip-path="url(#clipw)">
<polygon points="75.5,564.5 78.5,563.5 82.0,562.0 85.0,560.0 88.0,556.5 92.0,555.0 96.0,554.0 105.0,554.0 110.0,555.5 114.0,556.5 116.5,556.8 117.5,559.0 119.0,559.0 119.5,556.8 124.0,555.5 126.0,556.2 130.0,555.5 134.0,555.0 140.0,555.5 142.0,553.0 150.0,551.5 155.0,551.0 160.0,550.0 164.0,548.5 166.0,545.0 170.0,544.0 174.0,544.5 176.0,546.0 180.0,546.5 183.0,548.0 189.0,549.0 190.0,550.5 195.0,551.0 202.0,551.5 206.0,552.5 213.0,553.0 215.5,551.5 211.5,550.0 212.0,549.0 220.0,549.2 221.0,550.5 226.0,550.5 225.0,552.5 230.0,553.5 236.0,554.0 240.0,555.0 247.0,555.0 254.0,554.5 253.0,553.5 259.0,553.2 258.5,554.8 260.0,557.5 265.0,559.0 268.5,561.0 267.0,563.0 262.0,562.0 255.0,561.2 254.5,564.0 250.0,563.8 255.0,562.5 254.0,563.5 250.0,564.0 245.0,564.5 240.0,565.0 239.0,568.0 236.0,571.0 233.0,574.0 230.5,576.0 229.5,574.0 230.0,570.0 232.0,567.0 234.5,564.5 230.0,564.5 225.0,565.0 220.0,566.5 216.0,567.5 214.0,569.5 217.5,571.0 220.0,574.0 220.0,576.0 219.0,578.0 220.0,580.0 224.0,579.5 226.5,579.0 224.0,581.0 220.0,582.0 218.0,586.0 217.0,589.0 214.0,591.0 210.0,592.0 206.0,593.5 204.0,592.5 203.0,590.0 201.0,591.0 199.5,588.0 198.0,587.0 197.0,589.0 198.0,591.0 196.5,594.0 197.5,596.0 196.5,599.0 197.5,601.5 196.0,603.0 193.0,604.0 190.0,605.0 187.0,607.0 185.5,609.0 198.0,600.0 194.0,602.0 190.0,604.0 187.0,606.0 185.0,608.0 183.5,605.0 182.0,605.5 183.5,609.0 185.0,612.0 183.0,615.0 181.0,617.0 178.5,615.0 176.5,613.0 175.0,614.0 176.0,617.0 178.0,621.0 178.5,625.0 177.0,623.0 175.0,620.0 172.0,617.0 172.5,614.0 170.0,610.0 168.0,606.0 165.0,603.0 160.0,606.5 160.0,607.0 157.0,609.0 156.0,612.0 157.5,616.0 158.0,619.5 155.0,619.0 152.0,615.0 150.0,610.0 148.0,606.0 144.0,604.0 142.5,601.0 143.5,602.0 142.0,600.5 137.0,600.5 135.0,604.0 134.0,606.0 135.0,605.0 132.0,608.0 128.0,610.0 130.0,611.8 131.2,612.8 127.5,614.0 126.0,618.0 124.0,621.0 121.0,624.0 118.0,627.0 115.5,630.0 115.0,634.0 116.5,636.0 117.0,639.0 115.0,642.0 112.0,645.0 111.5,649.0 109.5,651.0 108.0,654.0 105.5,657.5 102.0,659.5 97.0,660.0 94.5,660.8 92.5,658.5 91.5,656.0 90.0,652.0 89.0,648.0 87.0,644.0 86.0,640.0 88.0,637.0 87.5,633.0 85.0,629.0 83.5,625.0 81.0,622.5 79.0,620.5 75.5,620.0" fill="#a9a9a9"/>
<polygon points="85.0,545.0 103.0,545.0 100.0,547.5 96.0,548.5 91.5,549.5 88.0,547.5" fill="#a9a9a9"/>
<polygon points="119.0,544.3 127.0,544.3 125.0,545.8 121.0,545.8" fill="#a9a9a9"/>
<polygon points="128.5,545.0 131.0,543.3 135.0,543.0 141.0,544.3 138.0,545.5 132.0,545.8 129.0,546.0" fill="#a9a9a9"/>
<polygon points="126.0,554.0 129.0,551.0 134.0,549.0 140.0,548.0 145.0,548.0 144.5,549.5 139.0,550.5 135.0,551.5 132.5,553.5 130.0,555.0" fill="#a9a9a9"/>
<polygon points="240.5,570.0 243.0,570.0 243.0,570.8 240.5,570.8" fill="#a9a9a9"/>
<polygon points="258.0,573.0 260.0,573.0 260.0,573.8 258.0,573.8" fill="#a9a9a9"/>
<polygon points="202.0,598.0 206.0,597.2 206.0,598.2 202.0,599.0" fill="#a9a9a9"/>
<polygon points="195.0,606.5 197.5,606.0 198.5,609.0 196.5,610.0 195.0,609.0" fill="#a9a9a9"/>
<polygon points="258.0,573.0 262.0,573.0 262.0,573.8 258.0,573.8" fill="#a9a9a9"/>
<polygon points="275.0,603.0 278.0,603.2 281.0,606.0 280.0,607.0 278.0,605.0" fill="#a9a9a9"/>
<polygon points="124.0,637.0 126.0,637.5 125.5,642.0 124.5,646.0 123.0,650.0 120.5,651.5 118.5,649.0 117.5,647.0 118.5,644.0 118.5,641.0 121.0,639.5" fill="#a9a9a9"/>
<polygon points="130.0,646.2 134.0,645.0 134.0,645.7 130.3,646.8" fill="#a9a9a9"/>
<polygon points="167.0,612.0 169.0,612.0 169.0,612.8 167.0,612.8" fill="#a9a9a9"/>
<polygon points="143.0,674.0 147.0,674.0 145.5,675.5 144.0,675.0" fill="#a9a9a9"/>
<polygon points="167.0,612.0 169.0,612.0 169.0,612.8 167.0,612.8" fill="#a9a9a9"/>
<polygon points="169.5,619.0 172.0,619.2 175.5,621.5 179.0,624.8 181.5,627.8 182.8,630.8 180.5,631.2 177.5,629.5 174.5,626.8 171.5,623.8 169.5,621.0" fill="#a9a9a9"/>
<polygon points="181.5,630.5 184.0,630.3 190.0,631.0 195.0,631.8 200.0,632.0 203.0,632.2 202.5,634.5 196.0,634.2 192.0,633.2 186.0,632.2" fill="#a9a9a9"/>
<polygon points="183.0,624.0 186.0,621.0 190.0,618.0 193.5,615.0 195.0,616.0 194.5,620.0 196.0,623.0 194.0,627.0 192.0,629.5 189.0,629.0 185.0,628.0 182.5,626.0" fill="#a9a9a9"/>
<polygon points="194.5,624.0 200.0,623.5 203.0,624.0 201.0,625.5 198.0,625.5 198.5,629.0 197.0,631.0 194.5,630.5 195.0,627.0" fill="#a9a9a9"/>
<polygon points="200.5,628.0 204.0,627.5 206.0,629.0 203.0,630.0 200.5,629.5" fill="#a9a9a9"/>
<polygon points="202.5,623.5 204.5,623.2 205.0,626.0 203.0,626.2" fill="#a9a9a9"/>
<polygon points="205.0,632.0 208.0,632.5 207.8,633.8 205.2,633.3" fill="#a9a9a9"/>
<polygon points="195.0,606.0 197.5,607.0 198.5,611.0 200.0,613.0 202.0,616.0 203.0,618.5 200.0,619.5 197.5,618.0 196.5,615.0 194.5,612.0 195.0,609.0" fill="#a9a9a9"/>
<polygon points="204.0,624.0 208.0,625.0 212.0,626.0 216.0,627.0 220.0,628.5 224.0,630.0 226.0,633.0 226.5,636.0 224.0,635.0 220.0,634.0 217.0,634.5 214.0,633.5 211.0,632.0 209.0,630.0 206.0,628.5 204.0,626.5" fill="#a9a9a9"/>
<polygon points="226.0,628.0 229.0,628.5 229.0,630.0 226.5,629.8" fill="#a9a9a9"/>
<polygon points="229.0,630.0 233.0,631.5 237.5,634.0 237.0,636.0 234.0,634.5 230.0,632.0" fill="#a9a9a9"/>
<polygon points="241.0,640.0 242.2,639.8 243.8,641.2 242.8,641.8" fill="#a9a9a9"/>
<polygon points="238.0,645.0 240.0,645.5 243.0,646.5 242.5,648.0 239.5,647.0" fill="#a9a9a9"/>
<polygon points="251.0,642.5 254.0,641.0 255.5,641.5 255.0,643.5 252.5,644.0" fill="#a9a9a9"/>
<polygon points="187.0,648.0 189.0,646.0 193.0,645.0 196.0,643.0 199.0,640.0 202.0,639.0 204.5,636.5 208.0,636.5 212.0,637.5 213.0,640.0 214.5,642.0 216.0,640.0 216.5,636.5 218.5,636.0 220.0,639.0 222.0,642.0 224.0,645.0 226.5,648.0 229.0,651.0 229.5,654.0 228.0,658.0 226.0,662.0 224.0,664.0 220.0,664.5 217.0,664.0 214.5,662.5 212.0,661.0 209.0,659.5 207.0,657.5 203.0,658.0 200.0,659.0 197.0,660.0 194.0,660.5 190.0,660.0 189.0,658.0 189.5,655.0 188.0,652.0" fill="#a9a9a9"/>
<polygon points="219.0,666.0 223.5,666.0 223.5,668.0 222.0,670.0 220.0,669.0" fill="#a9a9a9"/>
<polygon points="247.0,659.5 248.5,659.0 251.0,661.5 254.5,662.0 255.0,663.0 252.0,665.0 250.0,667.0 247.0,670.0 245.0,672.0 243.0,672.8 241.0,671.0 244.0,669.0 247.0,666.0 249.0,664.0 248.0,661.5" fill="#a9a9a9"/>
<polygon points="258.0,669.0 260.0,669.0 260.0,669.7 258.0,669.7" fill="#a9a9a9"/>
<polygon points="261.0,638.0 263.0,638.0 265.0,639.2 263.0,639.7" fill="#a9a9a9"/>
<polygon points="251.0,642.2 255.0,641.2 254.5,643.5 252.5,643.8" fill="#a9a9a9"/>
<polygon points="284.0,641.8 287.0,641.8 286.0,643.0 284.5,642.8" fill="#a9a9a9"/>
<polygon points="343.0,624.7 346.0,624.7 345.5,625.8 343.5,625.8" fill="#a9a9a9"/>
<polygon points="258.0,669.0 260.0,669.0 260.0,669.7 258.0,669.7" fill="#a9a9a9"/>
<polygon points="268.0,556.5 274.0,554.0 285.0,554.0 298.0,555.5 306.0,555.0 310.0,554.0 309.0,552.0 314.0,551.5 311.0,549.5 311.2,548.2 316.0,548.5 317.0,547.0 327.0,546.0 328.0,548.0 333.0,546.5 338.0,545.0 343.0,544.0 350.0,542.0 360.0,542.0 368.0,542.8 375.0,543.5 387.0,542.0 395.0,541.2 405.0,541.0 415.0,542.0 424.0,543.0 423.5,544.5 419.0,545.5 417.5,548.0 417.0,551.0 414.0,553.0 412.0,555.5 405.0,558.0 400.0,559.0 396.0,560.0 395.0,563.0 392.0,565.0 389.0,565.0 386.0,563.5 386.7,564.0 383.9,562.3 381.1,558.8 379.0,554.9 377.6,551.4 375.5,549.7 370.6,549.7 366.4,549.0 362.9,547.9 360.8,546.9 358.0,548.3 355.9,550.0 359.4,551.8 362.9,552.8 367.1,553.9 369.2,556.0 372.0,557.0 374.8,558.1 373.4,559.5 372.0,561.6 371.3,563.7 372.7,565.1 374.8,567.9 375.5,570.0 379.0,570.7 380.0,574.2 382.5,576.3 382.5,578.4 379.0,578.4 376.2,577.7 375.5,579.8 372.0,580.5 369.2,582.6 365.7,583.3 362.9,585.4 360.8,588.2 358.0,591.0 355.9,593.1 355.9,593.1 355.0,594.5 356.0,596.2 358.5,598.1 357.2,598.8 359.0,600.0 361.2,600.9 361.5,602.5 360.0,602.0 358.0,601.5 357.0,600.6 353.5,600.2 352.0,598.5 351.0,595.8 345.0,596.8 343.0,595.8 341.0,596.5 339.0,598.5 338.0,601.5 339.0,604.5 341.0,605.8 343.5,605.2 345.0,604.0 347.0,603.2 348.8,604.2 349.0,606.5 347.8,607.5 347.6,608.8 352.0,609.5 353.0,611.0 352.5,613.5 353.5,615.0 357.0,615.2 357.8,617.0 357.0,617.8 355.0,618.5 352.0,617.8 350.0,616.0 347.0,613.5 344.0,611.5 342.0,609.8 336.0,609.2 333.0,608.0 330.0,606.5 326.0,604.0 323.0,601.0 320.0,598.0 318.0,595.0 315.0,592.0 313.0,588.0 311.0,584.0 310.0,580.0 309.5,577.0 307.0,574.5 303.0,572.0 301.0,569.5 297.0,567.5 292.0,565.5 284.5,565.0 284.5,566.5 280.0,568.5 273.0,570.0 268.5,572.0 266.0,572.8 266.2,571.2 273.0,568.5 276.5,566.5 275.0,565.0 270.0,564.0 267.5,560.0 271.0,558.5" fill="#a9a9a9"/>
<polygon points="350.0,602.2 356.5,602.2 358.0,603.5 360.0,604.0 362.5,605.0 366.0,605.5 368.0,606.8 370.0,607.5 370.0,608.0 361.0,607.8 360.0,606.5 358.0,605.5 356.0,604.5 352.0,604.0 350.0,603.2" fill="#a9a9a9"/>
<polygon points="357.0,607.0 360.0,607.0 360.0,607.8 357.0,607.8" fill="#a9a9a9"/>
<polygon points="363.0,603.0 365.0,603.0 365.0,603.8 363.0,603.8" fill="#a9a9a9"/>
<polygon points="373.0,609.0 374.8,609.0 374.8,610.8 373.0,610.8" fill="#a9a9a9"/>
<polygon points="356.5,617.5 359.0,614.0 364.0,613.2 369.0,614.0 373.5,614.5 375.0,617.0 378.0,619.0 383.0,619.5 385.0,622.0 386.0,624.0 391.0,626.0 396.0,628.0 400.0,630.0 401.0,633.0 399.0,637.0 397.0,640.0 396.0,644.0 394.0,648.0 391.0,649.5 387.0,651.0 386.0,654.0 383.0,658.0 379.0,661.0 378.0,664.0 375.0,664.5 372.5,667.0 370.0,671.0 369.0,674.0 367.0,677.0 369.5,679.5 371.0,680.5 367.0,681.5 364.0,680.5 361.0,679.0 359.5,676.0 359.0,672.0 360.5,668.0 360.0,664.0 361.5,660.0 362.5,656.0 363.5,652.0 364.0,648.0 364.0,644.0 362.0,642.5 359.0,640.0 357.0,636.0 354.5,632.0 353.0,629.0 353.5,626.0 355.5,623.0 356.0,620.0" fill="#a9a9a9"/>
<polygon points="374.0,676.0 378.0,676.0 378.0,677.8 374.0,677.8" fill="#a9a9a9"/>
<polygon points="397.0,679.0 400.0,679.0 399.0,680.5 397.5,680.0" fill="#a9a9a9"/>
<polygon points="388.5,685.0 390.5,685.0 391.0,686.5 389.0,686.5" fill="#a9a9a9"/>
<polygon points="417.0,596.0 426.0,596.0 426.0,619.0 422.5,618.5 420.0,616.0 418.0,613.0 417.0,610.0 417.5,606.0 417.0,603.0 418.5,600.0 419.5,597.5" fill="#a9a9a9"/>
<polygon points="410.0,559.0 422.0,559.0 421.0,561.0 417.0,562.5 414.0,561.5" fill="#a9a9a9"/>
<polygon points="405.0,586.5 407.0,586.2 407.2,587.2 405.5,587.5" fill="#a9a9a9"/>
<polygon points="409.0,587.0 411.0,587.0 411.0,587.8 409.0,587.8" fill="#a9a9a9"/>
<polygon points="73.6,695.2 89.8,694.3 104.2,694.3 113.2,693.0 124.0,691.6 133.0,691.2 160.0,691.2 170.8,690.3 196.0,691.2 210.4,690.7 223.0,692.5 232.0,693.8 241.0,695.6 247.3,697.0 245.5,699.7 239.2,701.5 250.0,701.0 268.0,703.3 277.0,702.0 289.6,700.2 304.0,698.8 314.8,697.9 331.0,698.8 332.8,697.0 345.4,697.0 354.4,697.0 361.6,694.3 368.8,690.7 374.2,688.0 379.6,688.0 375.1,689.8 375.1,697.0 377.8,700.6 386.8,702.4 397.6,703.3 404.8,701.5 412.0,699.7 419.2,697.9 427.3,695.6 427.3,715.0 250.0,715.0 73.6,715.0" fill="#a9a9a9"/>
<polygon points="358.9,670.0 370.6,670.0 369.7,673.6 367.0,676.3 370.6,679.9 365.2,680.4 360.7,678.1 358.9,673.6" fill="#a9a9a9"/>
<polygon points="75.0,564.5 80.0,566.0 83.0,570.0 80.0,572.0 77.5,573.0 75.0,572.5" fill="#fff"/>
<polygon points="75.0,587.5 77.5,585.0 79.5,583.0 82.5,583.3 82.5,585.0 80.5,586.0 83.0,587.0 85.0,587.5 85.5,588.2 75.0,588.2" fill="#fff"/>
<polygon points="86.0,584.5 90.0,585.5 89.5,587.0 86.5,586.5" fill="#fff"/>
<polygon points="87.0,589.5 90.0,588.5 93.5,587.5 94.0,586.0 95.5,587.5 99.0,590.0 100.0,588.0 103.5,589.8 108.0,590.5 109.0,592.5 105.5,594.0 100.0,592.2 96.5,592.5 93.0,594.0 89.5,592.0 87.0,591.0" fill="#fff"/>
<polygon points="90.0,582.0 91.5,582.0 91.5,583.0 90.0,583.0" fill="#fff"/>
<polygon points="92.0,583.0 93.5,583.0 93.5,584.0 92.0,584.0" fill="#fff"/>
<polygon points="94.0,563.0 96.0,563.0 95.5,567.0 94.0,566.5" fill="#fff"/>
<polygon points="92.0,569.0 95.0,569.0 95.0,570.0 92.0,570.0" fill="#fff"/>
<polygon points="205.0,586.0 208.0,584.0 212.0,581.0 215.5,578.0 217.0,579.0 214.5,583.0 214.0,587.0 210.0,589.0 205.5,590.0" fill="#fff"/>
<polygon points="341.2,565.1 344.0,564.0 346.8,564.4 351.0,563.7 353.1,563.0 355.2,564.4 355.9,565.8 354.5,567.2 354.8,571.4 353.8,571.4 353.4,569.3 350.3,569.3 347.5,567.9 344.7,566.5 342.6,565.8" fill="#fff"/>
<polygon points="351.7,559.5 354.5,558.8 355.2,556.3 357.6,556.3 358.0,558.1 359.0,559.5 356.6,560.2 353.8,560.5" fill="#fff"/>
<polygon points="354.5,561.9 363.6,561.9 363.6,562.6 354.5,562.6" fill="#fff"/>
<polygon points="372.0,577.0 375.1,576.6 375.1,578.0 372.0,578.0" fill="#fff"/>
<polygon points="331.0,553.2 333.1,553.2 333.1,553.9 331.0,553.9" fill="#fff"/>
<polygon points="332.4,550.0 333.8,550.0 333.8,551.4 332.4,551.4" fill="#fff"/>
<polygon points="333.8,553.9 334.9,553.9 334.9,554.9 333.8,554.9" fill="#fff"/>
<polygon points="341.9,550.0 342.9,550.0 342.9,550.7 341.9,550.7" fill="#fff"/>
<polygon points="343.3,552.8 344.3,552.8 344.3,553.9 343.3,553.9" fill="#fff"/>
<polygon points="345.0,554.9 346.8,554.9 346.8,556.0 345.0,556.0" fill="#fff"/>
<polygon points="347.8,556.0 348.9,556.0 348.9,556.8 347.8,556.8" fill="#fff"/>
<polygon points="366.0,545.1 367.1,545.1 367.1,546.1 366.0,546.1" fill="#fff"/>
<polygon points="323.0,550.8 327.0,550.8 327.0,552.2 323.0,552.2" fill="#fff"/>
<polygon points="332.0,550.0 334.0,550.0 334.0,552.0 332.0,552.0" fill="#fff"/>
<polyline points="112.5,602.2 117.0,610.0" fill="none" stroke="#fff" stroke-width="1" shape-rendering="auto"/>
<polyline points="112.5,601.5 116.8,609.5" fill="none" stroke="#fff" stroke-width="1" shape-rendering="auto"/>
<polyline points="124.5,597.0 129.0,600.0" fill="none" stroke="#fff" stroke-width="1" shape-rendering="auto"/>
<polyline points="132.5,600.2 134.0,601.0" fill="none" stroke="#fff" stroke-width="1" shape-rendering="auto"/>
<polyline points="119.0,613.4 127.5,612.1" fill="none" stroke="#fff" stroke-width="1" shape-rendering="auto"/>
</g>
<line x1="105.5" y1="535" x2="105.5" y2="714" stroke="#000" stroke-width="1" stroke-dasharray="1 3"/>
<text x="105.5" y="528.5" class="ax" text-anchor="middle">30</text>
<text x="105.5" y="728" class="ax" text-anchor="middle">30</text>
<line x1="135.5" y1="535" x2="135.5" y2="714" stroke="#000" stroke-width="1" stroke-dasharray="1 3"/>
<text x="135.5" y="528.5" class="ax" text-anchor="middle">60</text>
<text x="135.5" y="728" class="ax" text-anchor="middle">60</text>
<line x1="165.5" y1="535" x2="165.5" y2="714" stroke="#000" stroke-width="1" stroke-dasharray="1 3"/>
<text x="165.5" y="528.5" class="ax" text-anchor="middle">90</text>
<text x="165.5" y="728" class="ax" text-anchor="middle">90</text>
<line x1="195.5" y1="535" x2="195.5" y2="714" stroke="#000" stroke-width="1" stroke-dasharray="1 3"/>
<text x="195.5" y="528.5" class="ax" text-anchor="middle">120</text>
<text x="195.5" y="728" class="ax" text-anchor="middle">120</text>
<line x1="225.5" y1="535" x2="225.5" y2="714" stroke="#000" stroke-width="1" stroke-dasharray="1 3"/>
<text x="225.5" y="528.5" class="ax" text-anchor="middle">150</text>
<text x="225.5" y="728" class="ax" text-anchor="middle">150</text>
<line x1="255.5" y1="535" x2="255.5" y2="714" stroke="#000" stroke-width="1" stroke-dasharray="1 3"/>
<text x="255.5" y="528.5" class="ax" text-anchor="middle">180</text>
<text x="255.5" y="728" class="ax" text-anchor="middle">180</text>
<line x1="285.5" y1="535" x2="285.5" y2="714" stroke="#000" stroke-width="1" stroke-dasharray="1 3"/>
<text x="285.5" y="528.5" class="ax" text-anchor="middle"><tspan class="mn" dy="1.3">-</tspan><tspan dy="-1.3">150</tspan></text>
<text x="285.5" y="728" class="ax" text-anchor="middle"><tspan class="mn" dy="1.3">-</tspan><tspan dy="-1.3">150</tspan></text>
<line x1="315.5" y1="535" x2="315.5" y2="714" stroke="#000" stroke-width="1" stroke-dasharray="1 3"/>
<text x="315.5" y="528.5" class="ax" text-anchor="middle"><tspan class="mn" dy="1.3">-</tspan><tspan dy="-1.3">120</tspan></text>
<text x="315.5" y="728" class="ax" text-anchor="middle"><tspan class="mn" dy="1.3">-</tspan><tspan dy="-1.3">120</tspan></text>
<line x1="345.5" y1="535" x2="345.5" y2="714" stroke="#000" stroke-width="1" stroke-dasharray="1 3"/>
<text x="345.5" y="528.5" class="ax" text-anchor="middle"><tspan class="mn" dy="1.3">-</tspan><tspan dy="-1.3">90</tspan></text>
<text x="345.5" y="728" class="ax" text-anchor="middle"><tspan class="mn" dy="1.3">-</tspan><tspan dy="-1.3">90</tspan></text>
<line x1="375.5" y1="535" x2="375.5" y2="714" stroke="#000" stroke-width="1" stroke-dasharray="1 3"/>
<text x="375.5" y="528.5" class="ax" text-anchor="middle"><tspan class="mn" dy="1.3">-</tspan><tspan dy="-1.3">60</tspan></text>
<text x="375.5" y="728" class="ax" text-anchor="middle"><tspan class="mn" dy="1.3">-</tspan><tspan dy="-1.3">60</tspan></text>
<line x1="405.5" y1="535" x2="405.5" y2="714" stroke="#000" stroke-width="1" stroke-dasharray="1 3"/>
<text x="405.5" y="528.5" class="ax" text-anchor="middle"><tspan class="mn" dy="1.3">-</tspan><tspan dy="-1.3">30</tspan></text>
<text x="405.5" y="728" class="ax" text-anchor="middle"><tspan class="mn" dy="1.3">-</tspan><tspan dy="-1.3">30</tspan></text>
<line x1="78" y1="564.5" x2="425" y2="564.5" stroke="#000" stroke-width="1" stroke-dasharray="1 3"/>
<text transform="translate(69.5,564.5) rotate(-90)" class="ax" text-anchor="middle">60</text>
<text transform="translate(430.5,564.5) rotate(90)" class="ax" text-anchor="middle">60</text>
<line x1="78" y1="594.5" x2="425" y2="594.5" stroke="#000" stroke-width="1" stroke-dasharray="1 3"/>
<text transform="translate(69.5,594.5) rotate(-90)" class="ax" text-anchor="middle">30</text>
<text transform="translate(430.5,594.5) rotate(90)" class="ax" text-anchor="middle">30</text>
<line x1="78" y1="624.5" x2="425" y2="624.5" stroke="#000" stroke-width="1" stroke-dasharray="1 3"/>
<text transform="translate(69.5,624.5) rotate(-90)" class="ax" text-anchor="middle">0</text>
<text transform="translate(430.5,624.5) rotate(90)" class="ax" text-anchor="middle">0</text>
<line x1="78" y1="654.5" x2="425" y2="654.5" stroke="#000" stroke-width="1" stroke-dasharray="1 3"/>
<text transform="translate(69.5,654.5) rotate(-90)" class="ax" text-anchor="middle"><tspan class="mn" dy="1.3">-</tspan><tspan dy="-1.3">30</tspan></text>
<text transform="translate(430.5,654.5) rotate(90)" class="ax" text-anchor="middle"><tspan class="mn" dy="1.3">-</tspan><tspan dy="-1.3">30</tspan></text>
<line x1="78" y1="684.5" x2="425" y2="684.5" stroke="#000" stroke-width="1" stroke-dasharray="1 3"/>
<text transform="translate(69.5,684.5) rotate(-90)" class="ax" text-anchor="middle"><tspan class="mn" dy="1.3">-</tspan><tspan dy="-1.3">60</tspan></text>
<text transform="translate(430.5,684.5) rotate(90)" class="ax" text-anchor="middle"><tspan class="mn" dy="1.3">-</tspan><tspan dy="-1.3">60</tspan></text>
<polygon points="147.5,677 135,700.7 160,700.7" fill="#c00000" shape-rendering="auto"/>
<rect x="535.5" y="534.5" width="395" height="395" fill="none" stroke="#000" stroke-width="1"/>
<rect x="579" y="927" width="1" height="3" fill="#000"/>
<rect x="579" y="534" width="1" height="3" fill="#000"/>
<rect x="535" y="885" width="3" height="1" fill="#000"/>
<rect x="928" y="885" width="3" height="1" fill="#000"/>
<rect x="600" y="927" width="1" height="3" fill="#000"/>
<rect x="600" y="534" width="1" height="3" fill="#000"/>
<rect x="535" y="864" width="3" height="1" fill="#000"/>
<rect x="928" y="864" width="3" height="1" fill="#000"/>
<rect x="615" y="927" width="1" height="3" fill="#000"/>
<rect x="615" y="534" width="1" height="3" fill="#000"/>
<rect x="535" y="849" width="3" height="1" fill="#000"/>
<rect x="928" y="849" width="3" height="1" fill="#000"/>
<rect x="625" y="927" width="1" height="3" fill="#000"/>
<rect x="625" y="534" width="1" height="3" fill="#000"/>
<rect x="535" y="839" width="3" height="1" fill="#000"/>
<rect x="928" y="839" width="3" height="1" fill="#000"/>
<rect x="634" y="925" width="1" height="5" fill="#000"/>
<rect x="634" y="534" width="1" height="5" fill="#000"/>
<rect x="535" y="830" width="5" height="1" fill="#000"/>
<rect x="926" y="830" width="5" height="1" fill="#000"/>
<rect x="678" y="927" width="1" height="3" fill="#000"/>
<rect x="678" y="534" width="1" height="3" fill="#000"/>
<rect x="535" y="786" width="3" height="1" fill="#000"/>
<rect x="928" y="786" width="3" height="1" fill="#000"/>
<rect x="699" y="927" width="1" height="3" fill="#000"/>
<rect x="699" y="534" width="1" height="3" fill="#000"/>
<rect x="535" y="765" width="3" height="1" fill="#000"/>
<rect x="928" y="765" width="3" height="1" fill="#000"/>
<rect x="713" y="927" width="1" height="3" fill="#000"/>
<rect x="713" y="534" width="1" height="3" fill="#000"/>
<rect x="535" y="751" width="3" height="1" fill="#000"/>
<rect x="928" y="751" width="3" height="1" fill="#000"/>
<rect x="724" y="927" width="1" height="3" fill="#000"/>
<rect x="724" y="534" width="1" height="3" fill="#000"/>
<rect x="535" y="740" width="3" height="1" fill="#000"/>
<rect x="928" y="740" width="3" height="1" fill="#000"/>
<rect x="733" y="925" width="1" height="5" fill="#000"/>
<rect x="733" y="534" width="1" height="5" fill="#000"/>
<rect x="535" y="732" width="5" height="1" fill="#000"/>
<rect x="926" y="732" width="5" height="1" fill="#000"/>
<rect x="777" y="927" width="1" height="3" fill="#000"/>
<rect x="777" y="534" width="1" height="3" fill="#000"/>
<rect x="535" y="687" width="3" height="1" fill="#000"/>
<rect x="928" y="687" width="3" height="1" fill="#000"/>
<rect x="798" y="927" width="1" height="3" fill="#000"/>
<rect x="798" y="534" width="1" height="3" fill="#000"/>
<rect x="535" y="666" width="3" height="1" fill="#000"/>
<rect x="928" y="666" width="3" height="1" fill="#000"/>
<rect x="812" y="927" width="1" height="3" fill="#000"/>
<rect x="812" y="534" width="1" height="3" fill="#000"/>
<rect x="535" y="652" width="3" height="1" fill="#000"/>
<rect x="928" y="652" width="3" height="1" fill="#000"/>
<rect x="823" y="927" width="1" height="3" fill="#000"/>
<rect x="823" y="534" width="1" height="3" fill="#000"/>
<rect x="535" y="641" width="3" height="1" fill="#000"/>
<rect x="928" y="641" width="3" height="1" fill="#000"/>
<rect x="831" y="925" width="1" height="5" fill="#000"/>
<rect x="831" y="534" width="1" height="5" fill="#000"/>
<rect x="535" y="633" width="5" height="1" fill="#000"/>
<rect x="926" y="633" width="5" height="1" fill="#000"/>
<rect x="875" y="927" width="1" height="3" fill="#000"/>
<rect x="875" y="534" width="1" height="3" fill="#000"/>
<rect x="535" y="589" width="3" height="1" fill="#000"/>
<rect x="928" y="589" width="3" height="1" fill="#000"/>
<rect x="897" y="927" width="1" height="3" fill="#000"/>
<rect x="897" y="534" width="1" height="3" fill="#000"/>
<rect x="535" y="567" width="3" height="1" fill="#000"/>
<rect x="928" y="567" width="3" height="1" fill="#000"/>
<rect x="911" y="927" width="1" height="3" fill="#000"/>
<rect x="911" y="534" width="1" height="3" fill="#000"/>
<rect x="535" y="553" width="3" height="1" fill="#000"/>
<rect x="928" y="553" width="3" height="1" fill="#000"/>
<rect x="921" y="927" width="1" height="3" fill="#000"/>
<rect x="921" y="534" width="1" height="3" fill="#000"/>
<rect x="535" y="543" width="3" height="1" fill="#000"/>
<rect x="928" y="543" width="3" height="1" fill="#000"/>
<path d="M535 929h1v1h-1zM536 928h1v1h-1zM537 927h1v1h-1zM538 926h1v1h-1zM539 925h1v1h-1zM540 924h1v1h-1zM541 923h1v1h-1zM542 922h1v1h-1zM543 921h1v1h-1zM544 920h1v1h-1zM545 919h1v1h-1zM546 918h1v1h-1zM547 917h1v1h-1zM548 916h1v1h-1zM549 915h1v1h-1zM550 914h1v1h-1zM551 913h1v1h-1zM552 912h1v1h-1zM553 911h1v1h-1zM554 910h1v1h-1zM555 909h1v1h-1zM556 908h1v1h-1zM557 907h1v1h-1zM558 906h1v1h-1zM559 905h1v1h-1zM560 904h1v1h-1zM561 903h1v1h-1zM562 902h1v1h-1zM563 901h1v1h-1zM564 900h1v1h-1zM565 899h1v1h-1zM566 898h1v1h-1zM567 897h1v1h-1zM568 896h1v1h-1zM569 895h1v1h-1zM570 894h1v1h-1zM571 893h1v1h-1zM572 892h1v1h-1zM573 891h1v1h-1zM574 890h1v1h-1zM575 889h1v1h-1zM576 888h1v1h-1zM577 887h1v1h-1zM578 886h1v1h-1zM579 885h1v1h-1zM580 884h1v1h-1zM581 883h1v1h-1zM582 882h1v1h-1zM583 881h1v1h-1zM584 880h1v1h-1zM585 879h1v1h-1zM586 878h1v1h-1zM587 877h1v1h-1zM588 876h1v1h-1zM589 875h1v1h-1zM590 874h1v1h-1zM591 873h1v1h-1zM592 872h1v1h-1zM593 871h1v1h-1zM594 870h1v1h-1zM595 869h1v1h-1zM596 868h1v1h-1zM597 867h1v1h-1zM598 866h1v1h-1zM599 865h1v1h-1zM600 864h1v1h-1zM601 863h1v1h-1zM602 862h1v1h-1zM603 861h1v1h-1zM604 860h1v1h-1zM605 859h1v1h-1zM606 858h1v1h-1zM607 857h1v1h-1zM608 856h1v1h-1zM609 855h1v1h-1zM610 854h1v1h-1zM611 853h1v1h-1zM612 852h1v1h-1zM613 851h1v1h-1zM614 850h1v1h-1zM615 849h1v1h-1zM616 848h1v1h-1zM617 847h1v1h-1zM618 846h1v1h-1zM619 845h1v1h-1zM620 844h1v1h-1zM621 843h1v1h-1zM622 842h1v1h-1zM623 841h1v1h-1zM624 840h1v1h-1zM625 839h1v1h-1zM626 838h1v1h-1zM627 837h1v1h-1zM628 836h1v1h-1zM629 835h1v1h-1zM630 834h1v1h-1zM631 833h1v1h-1zM632 832h1v1h-1zM633 831h1v1h-1zM634 830h1v1h-1zM635 829h1v1h-1zM636 828h1v1h-1zM637 827h1v1h-1zM638 826h1v1h-1zM639 825h1v1h-1zM640 824h1v1h-1zM641 823h1v1h-1zM642 822h1v1h-1zM643 821h1v1h-1zM644 820h1v1h-1zM645 819h1v1h-1zM646 818h1v1h-1zM647 817h1v1h-1zM648 816h1v1h-1zM649 815h1v1h-1zM650 814h1v1h-1zM651 813h1v1h-1zM652 812h1v1h-1zM653 811h1v1h-1zM654 810h1v1h-1zM655 809h1v1h-1zM656 808h1v1h-1zM657 807h1v1h-1zM658 806h1v1h-1zM659 805h1v1h-1zM660 804h1v1h-1zM661 803h1v1h-1zM662 802h1v1h-1zM663 801h1v1h-1zM664 800h1v1h-1zM665 799h1v1h-1zM666 798h1v1h-1zM667 797h1v1h-1zM668 796h1v1h-1zM669 795h1v1h-1zM670 794h1v1h-1zM671 793h1v1h-1zM672 792h1v1h-1zM673 791h1v1h-1zM674 790h1v1h-1zM675 789h1v1h-1zM676 788h1v1h-1zM677 787h1v1h-1zM678 786h1v1h-1zM679 785h1v1h-1zM680 784h1v1h-1zM681 783h1v1h-1zM682 782h1v1h-1zM683 781h1v1h-1zM684 780h1v1h-1zM685 779h1v1h-1zM686 778h1v1h-1zM687 777h1v1h-1zM688 776h1v1h-1zM689 775h1v1h-1zM690 774h1v1h-1zM691 773h1v1h-1zM692 772h1v1h-1zM693 771h1v1h-1zM694 770h1v1h-1zM695 769h1v1h-1zM696 768h1v1h-1zM697 767h1v1h-1zM698 766h1v1h-1zM699 765h1v1h-1zM700 764h1v1h-1zM701 763h1v1h-1zM702 762h1v1h-1zM703 761h1v1h-1zM704 760h1v1h-1zM705 759h1v1h-1zM706 758h1v1h-1zM707 757h1v1h-1zM708 756h1v1h-1zM709 755h1v1h-1zM710 754h1v1h-1zM711 753h1v1h-1zM712 752h1v1h-1zM713 751h1v1h-1zM714 750h1v1h-1zM715 749h1v1h-1zM716 748h1v1h-1zM717 747h1v1h-1zM718 746h1v1h-1zM719 745h1v1h-1zM720 744h1v1h-1zM721 743h1v1h-1zM722 742h1v1h-1zM723 741h1v1h-1zM724 740h1v1h-1zM725 739h1v1h-1zM726 738h1v1h-1zM727 737h1v1h-1zM728 736h1v1h-1zM729 735h1v1h-1zM730 734h1v1h-1zM731 733h1v1h-1zM732 732h1v1h-1zM733 731h1v1h-1zM734 730h1v1h-1zM735 729h1v1h-1zM736 728h1v1h-1zM737 727h1v1h-1zM738 726h1v1h-1zM739 725h1v1h-1zM740 724h1v1h-1zM741 723h1v1h-1zM742 722h1v1h-1zM743 721h1v1h-1zM744 720h1v1h-1zM745 719h1v1h-1zM746 718h1v1h-1zM747 717h1v1h-1zM748 716h1v1h-1zM749 715h1v1h-1zM750 714h1v1h-1zM751 713h1v1h-1zM752 712h1v1h-1zM753 711h1v1h-1zM754 710h1v1h-1zM755 709h1v1h-1zM756 708h1v1h-1zM757 707h1v1h-1zM758 706h1v1h-1zM759 705h1v1h-1zM760 704h1v1h-1zM761 703h1v1h-1zM762 702h1v1h-1zM763 701h1v1h-1zM764 700h1v1h-1zM765 699h1v1h-1zM766 698h1v1h-1zM767 697h1v1h-1zM768 696h1v1h-1zM769 695h1v1h-1zM770 694h1v1h-1zM771 693h1v1h-1zM772 692h1v1h-1zM773 691h1v1h-1zM774 690h1v1h-1zM775 689h1v1h-1zM776 688h1v1h-1zM777 687h1v1h-1zM778 686h1v1h-1zM779 685h1v1h-1zM780 684h1v1h-1zM781 683h1v1h-1zM782 682h1v1h-1zM783 681h1v1h-1zM784 680h1v1h-1zM785 679h1v1h-1zM786 678h1v1h-1zM787 677h1v1h-1zM788 676h1v1h-1zM789 675h1v1h-1zM790 674h1v1h-1zM791 673h1v1h-1zM792 672h1v1h-1zM793 671h1v1h-1zM794 670h1v1h-1zM795 669h1v1h-1zM796 668h1v1h-1zM797 667h1v1h-1zM798 666h1v1h-1zM799 665h1v1h-1zM800 664h1v1h-1zM801 663h1v1h-1zM802 662h1v1h-1zM803 661h1v1h-1zM804 660h1v1h-1zM805 659h1v1h-1zM806 658h1v1h-1zM807 657h1v1h-1zM808 656h1v1h-1zM809 655h1v1h-1zM810 654h1v1h-1zM811 653h1v1h-1zM812 652h1v1h-1zM813 651h1v1h-1zM814 650h1v1h-1zM815 649h1v1h-1zM816 648h1v1h-1zM817 647h1v1h-1zM818 646h1v1h-1zM819 645h1v1h-1zM820 644h1v1h-1zM821 643h1v1h-1zM822 642h1v1h-1zM823 641h1v1h-1zM824 640h1v1h-1zM825 639h1v1h-1zM826 638h1v1h-1zM827 637h1v1h-1zM828 636h1v1h-1zM829 635h1v1h-1zM830 634h1v1h-1zM831 633h1v1h-1zM832 632h1v1h-1zM833 631h1v1h-1zM834 630h1v1h-1zM835 629h1v1h-1zM836 628h1v1h-1zM837 627h1v1h-1zM838 626h1v1h-1zM839 625h1v1h-1zM840 624h1v1h-1zM841 623h1v1h-1zM842 622h1v1h-1zM843 621h1v1h-1zM844 620h1v1h-1zM845 619h1v1h-1zM846 618h1v1h-1zM847 617h1v1h-1zM848 616h1v1h-1zM849 615h1v1h-1zM850 614h1v1h-1zM851 613h1v1h-1zM852 612h1v1h-1zM853 611h1v1h-1zM854 610h1v1h-1zM855 609h1v1h-1zM856 608h1v1h-1zM857 607h1v1h-1zM858 606h1v1h-1zM859 605h1v1h-1zM860 604h1v1h-1zM861 603h1v1h-1zM862 602h1v1h-1zM863 601h1v1h-1zM864 600h1v1h-1zM865 599h1v1h-1zM866 598h1v1h-1zM867 597h1v1h-1zM868 596h1v1h-1zM869 595h1v1h-1zM870 594h1v1h-1zM871 593h1v1h-1zM872 592h1v1h-1zM873 591h1v1h-1zM874 590h1v1h-1zM875 589h1v1h-1zM876 588h1v1h-1zM877 587h1v1h-1zM878 586h1v1h-1zM879 585h1v1h-1zM880 584h1v1h-1zM881 583h1v1h-1zM882 582h1v1h-1zM883 581h1v1h-1zM884 580h1v1h-1zM885 579h1v1h-1zM886 578h1v1h-1zM887 577h1v1h-1zM888 576h1v1h-1zM889 575h1v1h-1zM890 574h1v1h-1zM891 573h1v1h-1zM892 572h1v1h-1zM893 571h1v1h-1zM894 570h1v1h-1zM895 569h1v1h-1zM896 568h1v1h-1zM897 567h1v1h-1zM898 566h1v1h-1zM899 565h1v1h-1zM900 564h1v1h-1zM901 563h1v1h-1zM902 562h1v1h-1zM903 561h1v1h-1zM904 560h1v1h-1zM905 559h1v1h-1zM906 558h1v1h-1zM907 557h1v1h-1zM908 556h1v1h-1zM909 555h1v1h-1zM910 554h1v1h-1zM911 553h1v1h-1zM912 552h1v1h-1zM913 551h1v1h-1zM914 550h1v1h-1zM915 549h1v1h-1zM916 548h1v1h-1zM917 547h1v1h-1zM918 546h1v1h-1zM919 545h1v1h-1zM920 544h1v1h-1zM921 543h1v1h-1zM922 542h1v1h-1zM923 541h1v1h-1zM924 540h1v1h-1zM925 539h1v1h-1zM926 538h1v1h-1zM927 537h1v1h-1zM928 536h1v1h-1zM929 535h1v1h-1zM930 534h1v1h-1z" fill="#000"/>
<text x="533.8" y="957" class="big" text-anchor="middle">0.01</text>
<text x="528.5" y="930.0" class="big" text-anchor="end">0.01</text>
<text x="634.0" y="957" class="big" text-anchor="middle">0.10</text>
<text x="528.5" y="838.2" class="big" text-anchor="end">0.10</text>
<text x="734.0" y="957" class="big" text-anchor="middle">1.00</text>
<text x="528.5" y="739.5" class="big" text-anchor="end">1.00</text>
<text x="832.3" y="957" class="big" text-anchor="middle">10.00</text>
<text x="528.5" y="640.8" class="big" text-anchor="end">10.00</text>
<text x="931.5" y="957" class="big" text-anchor="middle">100.00</text>
<text x="528.5" y="547.5" class="big" text-anchor="end">100.00</text>
<text y="980.5" class="tl"><tspan x="599.8" style="letter-spacing:0.85px">DPR Precipitation </tspan><tspan x="784.5" style="letter-spacing:2px">(mm<tspan dx="3.2">/</tspan><tspan dx="3.2">h)</tspan></tspan></text>
<path d="M548.6,544.4 L561.4,556.4 M561.4,544.4 L548.6,556.4" stroke="#0040ff" stroke-width="2" fill="none" shape-rendering="auto"/>
<path d="M548.6,564.4 L561.4,576.4 M561.4,564.4 L548.6,576.4" stroke="#c00000" stroke-width="2" fill="none" shape-rendering="auto"/>
<text y="552" class="leg"><tspan x="575">: </tspan><tspan x="586.5">Ocean</tspan></text>
<text y="572" class="leg"><tspan x="575">: </tspan><tspan x="586.5">Land</tspan></text>
<text x="70" y="764.5" class="b16">2026/01/26 09:51</text>
<text x="70" y="794" class="b16" xml:space="preserve">Scene center LAT:-64   LON:  72</text>
<text x="70" y="824" class="b16" xml:space="preserve">DeltaT:  177 (sec)</text>
<rect x="70.5" y="849.5" width="360" height="120" fill="none" stroke="#000" stroke-width="1"/>
<rect x="142" y="850" width="1" height="120" fill="#000"/>
<rect x="214" y="850" width="1" height="120" fill="#000"/>
<rect x="286" y="850" width="1" height="120" fill="#000"/>
<rect x="358" y="850" width="1" height="120" fill="#000"/>
<rect x="70" y="889" width="360" height="1" fill="#000"/>
<rect x="70" y="929" width="360" height="1" fill="#000"/>
<text x="178.5" y="879.5" class="b16" text-anchor="middle">Bias</text>
<text x="250.5" y="879.5" class="b16" text-anchor="middle">Cor</text>
<text x="322.5" y="879.5" class="b16" text-anchor="middle">RMSE</text>
<text x="394.5" y="879.5" class="b16" text-anchor="middle">N</text>
<text x="106.5" y="919.5" class="b16" text-anchor="middle">Ocean</text>
<text x="178.5" y="919.5" class="b16" text-anchor="middle">***</text>
<text x="250.5" y="919.5" class="b16" text-anchor="middle">***</text>
<text x="322.5" y="919.5" class="b16" text-anchor="middle">***</text>
<text x="394.5" y="919.5" class="b16" text-anchor="middle">0</text>
<text x="106.5" y="959.5" class="b16" text-anchor="middle">Land</text>
<text x="178.5" y="959.5" class="b16" text-anchor="middle">***</text>
<text x="250.5" y="959.5" class="b16" text-anchor="middle">***</text>
<text x="322.5" y="959.5" class="b16" text-anchor="middle">***</text>
<text x="394.5" y="959.5" class="b16" text-anchor="middle">0</text>
</svg></body></html>
